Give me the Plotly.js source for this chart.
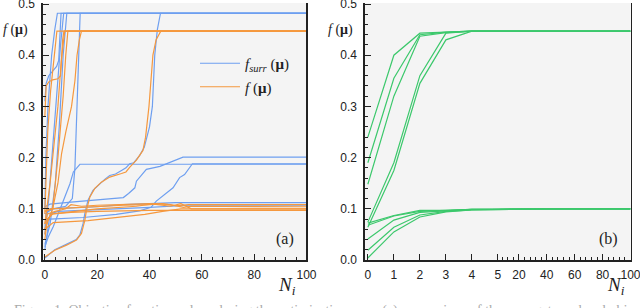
<!DOCTYPE html>
<html><head><meta charset="utf-8">
<script src="https://cdn.plot.ly/plotly-3.0.1.min.js"></script>
<style>html,body{margin:0;padding:0;background:#fff}#chart{width:640px;height:308px}</style>
</head><body><div id="chart"></div>
<script>
// ---------- Panel (a): [N_i, value] points ----------
// surrogate objective f_surr(mu) (blue) and real objective f(mu) (orange)
const surr1 = [[0,0.31],[0.5,0.345],[1.5,0.36],[3,0.368],[4.5,0.378],[5.3,0.39],[5.7,0.44],[6.2,0.482],[100,0.482]];
const real1 = [[0,0.28],[0.5,0.34],[1.5,0.348],[3,0.352],[5,0.354],[6,0.36],[6.8,0.43],[7.3,0.447],[100,0.447]];
const surr2 = [[0,0.10],[0.4,0.2],[1.2,0.3],[2.6,0.4],[3.8,0.45],[4.8,0.482],[100,0.482]];
const real2 = [[0,0.09],[0.5,0.17],[1.1,0.25],[2.2,0.33],[3.5,0.4],[4.6,0.447],[100,0.447]];
const surr3 = [[0,0.05],[1.5,0.12],[3,0.22],[4.5,0.33],[6,0.42],[7.2,0.482],[100,0.482]];
const real3 = [[0,0.07],[2,0.15],[3.2,0.21],[5,0.3],[6.3,0.39],[7.6,0.447],[100,0.447]];
const surr4 = [[0,0.03],[2,0.07],[4,0.15],[5.5,0.26],[7,0.4],[8.4,0.482],[100,0.482]];
const real4 = [[0,0.06],[3,0.1],[5,0.2],[7,0.32],[8,0.4],[8.8,0.447],[100,0.447]];
const surr5 = [[0,0.09],[3,0.1],[8,0.105],[10.5,0.12],[11.5,0.18],[12.2,0.3],[12.8,0.4],[13.1,0.45],[13.5,0.482],[100,0.482]];
const real5 = [[0,0.095],[3,0.1],[5,0.15],[6.4,0.208],[8,0.25],[10.2,0.3],[11.5,0.35],[12.3,0.4],[13.2,0.43],[14,0.447],[100,0.447]];
const surr6 = [[0,0.004],[3.8,0.02],[8,0.03],[12,0.04],[13.4,0.049],[14.6,0.071],[15.3,0.091],[16.5,0.117],[18.4,0.136],[21,0.149],[23,0.158],[24.8,0.165],[27,0.168],[29.3,0.175],[31,0.18],[32.4,0.188],[34,0.19],[36.2,0.204],[38,0.22],[40,0.26],[41.1,0.3],[42,0.4],[43,0.45],[44.2,0.482],[100,0.482]];
const real6 = [[0,0.006],[3.8,0.019],[8.3,0.029],[12.1,0.039],[14,0.052],[15.3,0.078],[15.9,0.097],[17.2,0.123],[19.1,0.14],[21.6,0.152],[24.8,0.162],[27,0.165],[29.3,0.169],[31,0.172],[32.4,0.181],[35,0.195],[37.5,0.214],[38.5,0.24],[39.8,0.3],[41.3,0.4],[42.5,0.43],[44.3,0.447],[100,0.447]];
const surr7 = [[0,0.104],[2,0.109],[10,0.113],[21,0.118],[30,0.122],[32,0.13],[34.4,0.141],[35,0.154],[37,0.165],[38.8,0.177],[44,0.183],[49,0.193],[52.8,0.201],[100,0.201]];
const real7 = [[0,0.095],[2,0.1],[10,0.102],[20,0.105],[30,0.107],[40,0.108],[45,0.11],[50,0.106],[55,0.108],[100,0.108]];
const surr8 = [[0,0.076],[2,0.08],[14.6,0.083],[27.3,0.089],[36.2,0.096],[40.6,0.103],[42.6,0.115],[45.8,0.128],[49,0.141],[51.5,0.161],[53.4,0.167],[56.4,0.188],[100,0.188]];
const real8 = [[0,0.06],[3.2,0.073],[16.5,0.077],[28,0.083],[38.2,0.089],[45,0.095],[52,0.1],[56,0.1],[100,0.1]];
const surr9 = [[0,0.026],[1.3,0.045],[3.2,0.065],[5.1,0.091],[6.8,0.113],[8.1,0.13],[9.6,0.149],[10.9,0.172],[13.4,0.187],[100,0.187]];
const real9 = [[0,0.04],[1,0.08],[3,0.09],[10,0.093],[20,0.095],[30,0.096],[40,0.097],[100,0.097]];
const surr10 = [[0,0.06],[0.5,0.09],[2,0.1],[10,0.102],[20,0.104],[30,0.108],[40,0.11],[50,0.112],[100,0.112]];
const real10 = [[0,0.07],[1,0.09],[4,0.095],[8,0.1],[10,0.108],[14,0.105],[20,0.107],[30,0.108],[40,0.11],[48,0.105],[52,0.11],[56,0.1],[100,0.1]];
const surr11 = [[0,0.02],[1,0.06],[2,0.09],[5,0.095],[15,0.097],[30,0.1],[40,0.103],[55,0.107],[100,0.107]];
const real11 = [[0,0.05],[1,0.08],[3,0.09],[20,0.1],[35,0.105],[42,0.11],[48,0.108],[53,0.103],[56,0.105],[100,0.104]];

const surrRuns = [surr1,surr2,surr3,surr4,surr5,surr6,surr7,surr8,surr9,surr10,surr11];
const realRuns = [real1,real2,real3,real4,real5,real6,real7,real8,real9,real10,real11];

// ---------- Panel (b): values at N_i steps ----------
const nSteps = [0,1,2,3,4,5,20,40,60,80,100];
const g1  = [0.24,0.40,0.443,0.445,0.447,0.447,0.447,0.447,0.447,0.447,0.447];
const g2  = [0.19,0.355,0.44,0.445,0.447,0.447,0.447,0.447,0.447,0.447,0.447];
const g3  = [0.148,0.32,0.437,0.444,0.447,0.447,0.447,0.447,0.447,0.447,0.447];
const g4  = [0.074,0.19,0.36,0.443,0.447,0.447,0.447,0.447,0.447,0.447,0.447];
const g5  = [0.064,0.175,0.345,0.43,0.447,0.447,0.447,0.447,0.447,0.447,0.447];
const g6  = [0.072,0.087,0.097,0.097,0.099,0.099,0.1,0.1,0.1,0.1,0.1];
const g7  = [0.068,0.086,0.095,0.097,0.099,0.099,0.1,0.1,0.1,0.1,0.1];
const g8  = [0.041,0.078,0.093,0.096,0.099,0.099,0.1,0.1,0.1,0.1,0.1];
const g9  = [0.019,0.064,0.088,0.095,0.098,0.099,0.1,0.1,0.1,0.1,0.1];
const g10 = [0.004,0.055,0.084,0.094,0.098,0.099,0.1,0.1,0.1,0.1,0.1];
const greenRuns = [g1,g2,g3,g4,g5,g6,g7,g8,g9,g10];

const yTickVals = [0,0.1,0.2,0.3,0.4,0.5];
const yTickText = ['0.0','0.1','0.2','0.3','0.4','0.5'];
const xTickValsA = [0,20,40,60,80,100];
const xTickValsB = [0,1,2,3,4,5,20,40,60,80,100];

// broken axis of panel (b): 0..5 linear, 5..100 compressed
const K = 0.05364;
const brk = n => n <= 5 ? n : 5 + (n - 5) * K;

const BLUE = '#6e9ff0', ORANGE = '#f5983e', GREEN = '#3cc86c';
const traces = [];
surrRuns.forEach((r, i) => traces.push({
  x: r.map(p => p[0]), y: r.map(p => p[1]), mode: 'lines', xaxis: 'x', yaxis: 'y',
  line: {color: BLUE, width: 1.2}, legendgroup: 's', showlegend: i === 0,
  name: '<i>f</i><sub><i>surr</i></sub> (<b>μ</b>)'
}));
realRuns.forEach((r, i) => traces.push({
  x: r.map(p => p[0]), y: r.map(p => p[1]), mode: 'lines', xaxis: 'x', yaxis: 'y',
  line: {color: ORANGE, width: 1.2}, legendgroup: 'r', showlegend: i === 0,
  name: '<i>f</i> (<b>μ</b>)'
}));
greenRuns.forEach(g => traces.push({
  x: nSteps.map(brk), y: g, mode: 'lines', xaxis: 'x2', yaxis: 'y2',
  line: {color: GREEN, width: 1.2}, showlegend: false
}));

const minorY = [];
for (let v = 0.02; v < 0.5; v += 0.02) { const r = Math.round(v * 100) / 100; if (Math.round(r * 100) % 10 !== 0) minorY.push(r); }
const minorXA = [];
for (let v = 4; v < 100; v += 4) if (v % 20 !== 0) minorXA.push(v);
const minorXB = [];
for (let v = 8; v < 100; v += 4) if (v % 20 !== 0) minorXB.push(brk(v));

const axCommon = {
  ticks: 'inside', ticklen: 6, tickwidth: 1, tickcolor: '#222',
  showline: true, linecolor: '#222', linewidth: 1.6,
  showgrid: false, zeroline: false, fixedrange: true,
  ticklabeloverflow: 'allow',
  tickfont: {family: 'Liberation Sans, Arial, sans-serif', size: 12, color: '#222'}
};
const yAx = () => Object.assign({}, axCommon, {
  domain: [0.1558, 0.9903], range: [0, 0.502],
  tickmode: 'array', tickvals: yTickVals, ticktext: yTickText, mirror: true,
  ticklabelstandoff: 4,
  minor: {tickmode: 'array', tickvals: minorY, ticks: 'inside', ticklen: 3, tickcolor: '#222', tickwidth: 1, showgrid: false}
});

const serif = 'Liberation Serif, Times New Roman, serif';
const ann = (text, px, py, size) => ({text: text, x: px/640, y: 1 - py/308, xref: 'paper', yref: 'paper',
  xanchor: 'center', yanchor: 'middle', showarrow: false, font: {family: serif, size: size, color: '#222'}});
const layout = {
  width: 640, height: 308, margin: {l: 0, r: 0, t: 0, b: 0},
  paper_bgcolor: '#ffffff', plot_bgcolor: '#f4f4f4',
  xaxis: Object.assign({}, axCommon, {
    domain: [0.0672, 0.4789], range: [-0.7, 100], anchor: 'y',
    tickmode: 'array', tickvals: xTickValsA, ticktext: xTickValsA.map(String), ticklabelstandoff: 3,
    minor: {tickmode: 'array', tickvals: minorXA, ticks: 'inside', ticklen: 3, tickcolor: '#222', tickwidth: 1, showgrid: false}
  }),
  yaxis: Object.assign(yAx(), {anchor: 'x'}),
  xaxis2: Object.assign({}, axCommon, {
    domain: [0.5703, 0.9852], range: [-0.11, brk(100)], anchor: 'y2',
    tickmode: 'array', tickvals: xTickValsB.map(brk), ticktext: xTickValsB.map(String), ticklabelstandoff: 3,
    minor: {tickmode: 'array', tickvals: minorXB, ticks: 'inside', ticklen: 3, tickcolor: '#222', tickwidth: 1, showgrid: false}
  }),
  yaxis2: Object.assign(yAx(), {anchor: 'x2'}),
  showlegend: true,
  legend: {x: 195/640, y: 1 - 47/308, xanchor: 'left', yanchor: 'top', bgcolor: 'rgba(0,0,0,0)',
           font: {family: serif, size: 15, color: '#222'}, itemwidth: 40, tracegroupgap: 1},
  annotations: [
    ann('<i>f</i> (<b>μ</b>)', 15, 30, 14),
    ann('<i>f</i> (<b>μ</b>)', 340, 30, 14),
    ann('<i>N<sub>i</sub></i>', 287, 286, 19),
    ann('<i>N<sub>i</sub></i>', 616, 286, 19),
    ann('(a)', 285, 239, 16),
    ann('(b)', 608, 239, 16),
    {text: 'Figure 1: Objective function values during the optimization runs: (a) comparison of the surrogate and real objective',
     x: 12/640, y: 7/308, xref: 'paper', yref: 'paper', xanchor: 'left', yanchor: 'top', showarrow: false,
     font: {family: serif, size: 14, color: '#aaaaaa'}}
  ]
};

Plotly.newPlot('chart', traces, layout, {staticPlot: true, displayModeBar: false});
</script>
</body></html>
